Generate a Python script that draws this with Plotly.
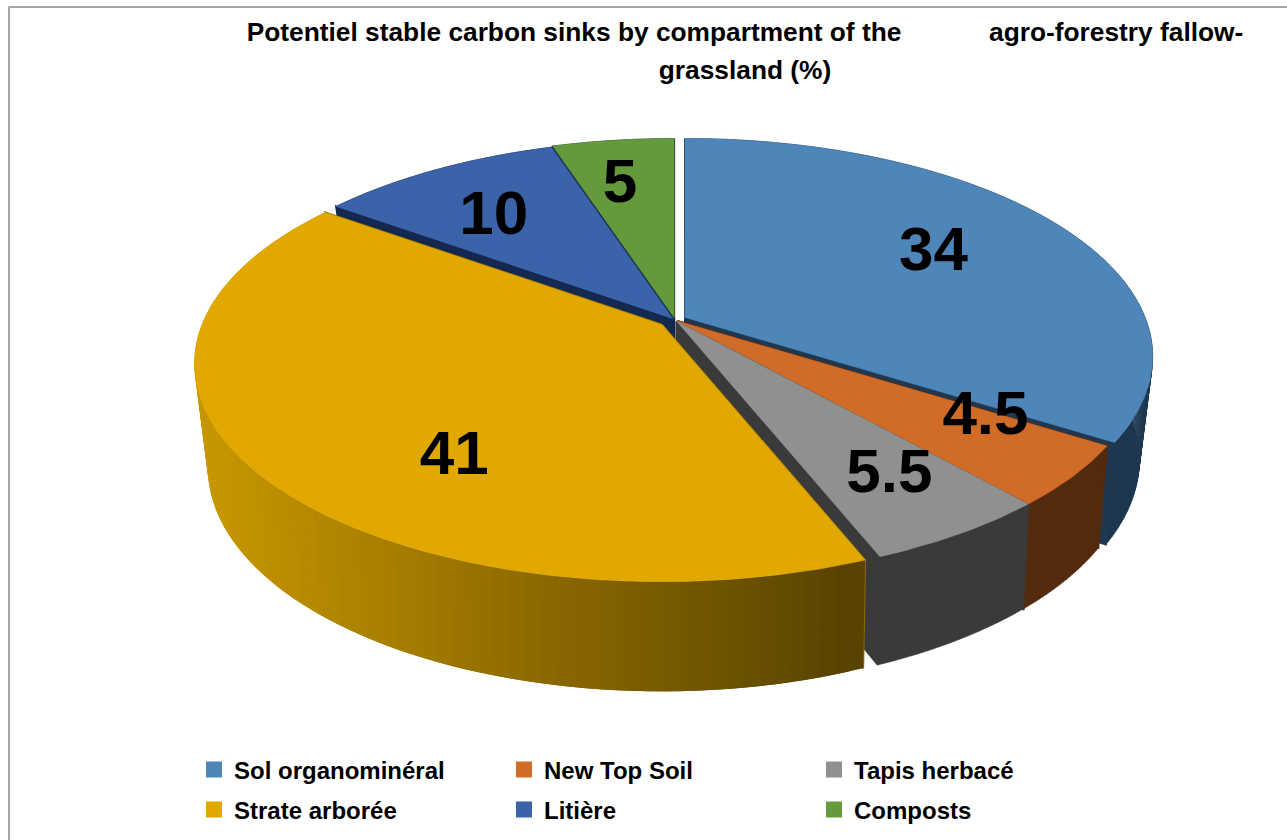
import math
import plotly.graph_objects as go

TITLE = ('<span style="font-size:26.3px">Potentiel stable carbon sinks by compartment of the'
         + "\u00a0" * 12 + 'agro-forestry fallow-<br>grassland (%)</span>')
categories = ["Sol organominéral", "New Top Soil", "Tapis herbacé", "Strate arborée", "Litière", "Composts"]
values = [34, 4.5, 5.5, 41, 10, 5]
labels = ["34", "4.5", "5.5", "41", "10", "5"]
top_colors = ["#4F86BA", "#D06C27", "#909090", "#E0A800", "#3A63AA", "#659A3C"]
wall_colors = ["#1F3850", "#542B0F", "#3A3A3A", "#8F6B00", "#14294F", "#14294F"]

# view model of the tilted disc (pixels on the page)
CENTER = (675.0, 320.0)
EXPLODE = [0.025, 0.007, 0.007, 0.036, 0.008, 0.012]
TOP = dict(A=460.0, B=211.0, k=0.179, d=0.0)
BOT = dict(A=445.0, B=215.0, k=0.20, d=98.0)
LABEL_R = [0.667, 0.744, 0.755, 0.685, 0.694, 0.735]
LABEL_DT = [-2.0, -7.0, -1.4, -15.75, -2.0, -1.4]
LABEL_DY = 4.5
GOLD_LEFT, GOLD_RIGHT = (198, 150, 0), (88, 66, 0)


def proj(apex, u, v, m):
    w = 1 - m["k"] * v
    return apex[0] + m["A"] * u / w, apex[1] + m["d"] + m["B"] * v / w


def rim(apex, a, m):
    t = math.radians(a)
    return proj(apex, math.sin(t), -math.cos(t), m)


total = sum(values)
slices = []
acc = 0.0
for i, val in enumerate(values):
    a0 = acc / total * 360
    acc += val
    a1 = acc / total * 360
    mid = math.radians((a0 + a1) / 2)
    e = EXPLODE[i]
    apex = (CENTER[0] + TOP["A"] * e * math.sin(mid), CENTER[1] - TOP["B"] * e * math.cos(mid))
    slices.append((a0, a1, apex))

fig = go.Figure()


def poly(polys, color, lw=0.6):
    xs, ys = [], []
    for pts in polys:
        xs += [p[0] for p in pts] + [pts[0][0], None]
        ys += [p[1] for p in pts] + [pts[0][1], None]
    fig.add_trace(go.Scatter(
        x=xs, y=ys, mode="lines", fill="toself", fillcolor=color,
        line=dict(color=color, width=lw), hoverinfo="skip", showlegend=False))


def arc(a0, a1, n=None):
    n = n or max(4, int((a1 - a0) * 1.5))
    return [a0 + (a1 - a0) * j / n for j in range(n + 1)]


def quad(apex, b0, b1):
    return [rim(apex, b0, TOP), rim(apex, b1, TOP), rim(apex, b1, BOT), rim(apex, b0, BOT)]


# walls, back slices first
for i in [5, 4, 0, 1, 2, 3]:
    a0, a1, apex = slices[i]
    poly([[proj(apex, 0, 0, TOP), rim(apex, edge, TOP), rim(apex, edge, BOT), proj(apex, 0, 0, BOT)]
          for edge in (a0, a1)], wall_colors[i], lw=2)
    if i == 3:
        xs = [rim(apex, 270, BOT)[0], rim(apex, a0, TOP)[0]]
        steps = 90
        da = (a1 - a0) / steps
        for j in range(steps):
            b0 = a1 - da * (j + 1)
            b1 = min(a1, b0 + 2 * da)
            x = rim(apex, b0 + da / 2, TOP)[0]
            f = min(1.0, max(0.0, (x - xs[0]) / (xs[1] - xs[0])))
            rgb = [round(GOLD_LEFT[c] + (GOLD_RIGHT[c] - GOLD_LEFT[c]) * f) for c in range(3)]
            poly([quad(apex, b0, b1)], "rgb(%d,%d,%d)" % tuple(rgb), lw=0)
    else:
        angs = arc(a0, a1)
        poly([quad(apex, p, q) for p, q in zip(angs, angs[1:])], wall_colors[i])

# top faces
for i, (a0, a1, apex) in enumerate(slices):
    poly([[proj(apex, 0, 0, TOP)] + [rim(apex, a, TOP) for a in arc(a0, a1)]], top_colors[i])

# value labels
lx, ly = [], []
for i, (a0, a1, apex) in enumerate(slices):
    t = math.radians((a0 + a1) / 2 + LABEL_DT[i])
    x, y = proj(apex, LABEL_R[i] * math.sin(t), -LABEL_R[i] * math.cos(t), TOP)
    lx.append(x)
    ly.append(y + LABEL_DY)
fig.add_trace(go.Scatter(
    x=lx, y=ly, mode="text", text=labels, textposition="middle center",
    textfont=dict(family="Liberation Sans", size=62, color="#000000", weight="bold"),
    hoverinfo="skip", showlegend=False))

# legend: two rows of three
for j, (name, color) in enumerate(zip(categories, top_colors)):
    fig.add_trace(go.Scatter(
        x=[None], y=[None], mode="markers", name=name, legend="legend" if j < 3 else "legend2",
        marker=dict(symbol="square", size=16, color=color)))

legend_base = dict(orientation="h", x=194 / 1287, xanchor="left", yanchor="middle",
                   entrywidth=265, entrywidthmode="pixels", traceorder="normal",
                   font=dict(family="Liberation Sans", size=24, color="#000000", weight="bold"),
                   bgcolor="rgba(0,0,0,0)", itemclick=False, itemdoubleclick=False)

fig.update_layout(
    width=1287, height=840, autosize=False,
    margin=dict(l=0, r=0, t=0, b=0),
    paper_bgcolor="white", plot_bgcolor="white",
    title=dict(text=TITLE, x=745 / 1287, xanchor="center", y=1 - 41 / 840, yanchor="middle",
               font=dict(family="Liberation Sans", size=29, color="#000000", weight="bold")),
    xaxis=dict(range=[0, 1287], visible=False, fixedrange=True),
    yaxis=dict(range=[840, 0], visible=False, fixedrange=True),
    legend=dict(legend_base, y=1 - 770 / 840),
    legend2=dict(legend_base, y=1 - 810 / 840),
    shapes=[
        dict(type="line", xref="paper", yref="paper", x0=8.5 / 1287, x1=1, y0=1 - 7 / 840, y1=1 - 7 / 840,
             line=dict(color="#A6A6A6", width=2)),
        dict(type="line", xref="paper", yref="paper", x0=9 / 1287, x1=9 / 1287, y0=0, y1=1 - 7 / 840,
             line=dict(color="#A6A6A6", width=2)),
    ],
)
fig.write_html("out.html", config={"displayModeBar": False},
               post_script="document.body.style.margin='0';")
